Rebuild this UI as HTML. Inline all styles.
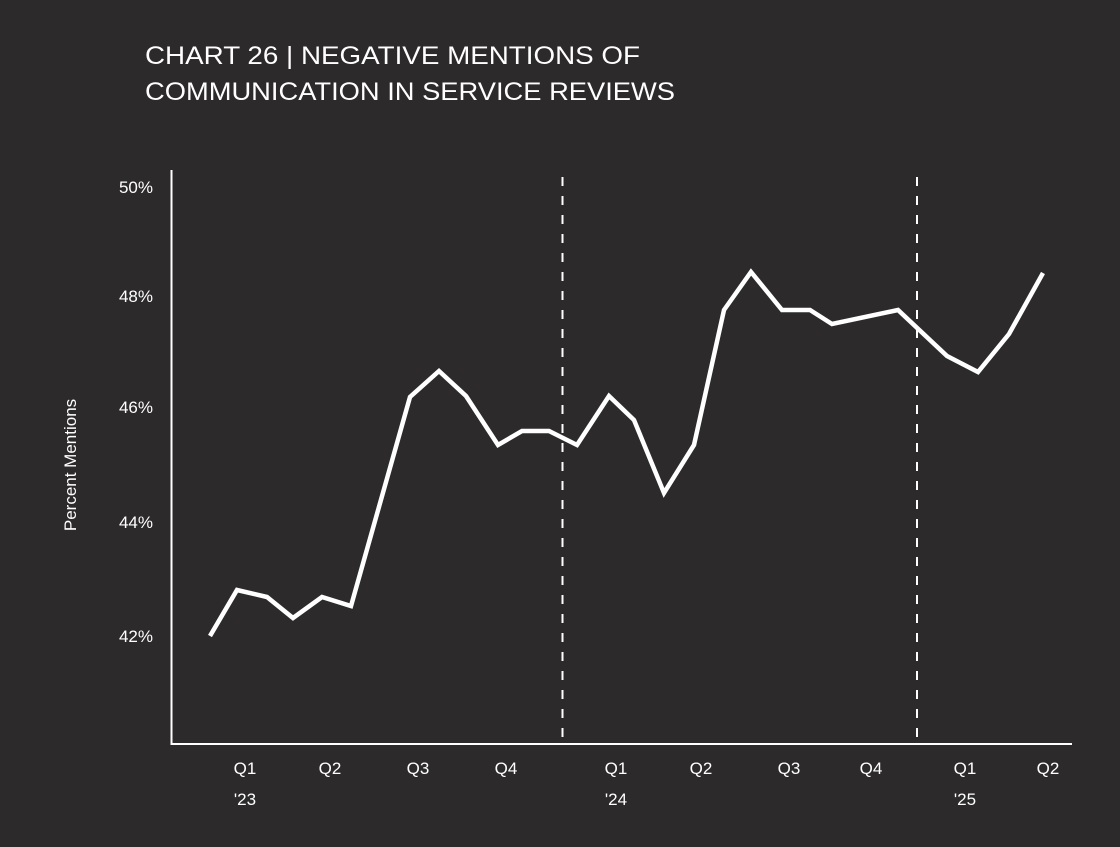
<!DOCTYPE html>
<html><head><style>
html,body{margin:0;padding:0;background:#2d2a2b;}
svg{display:block;}
text{font-family:"Liberation Sans",sans-serif;fill:#fff;}
</style></head><body>
<svg width="1120" height="847" viewBox="0 0 1120 847">
<rect width="1120" height="847" fill="#2d2a2b"/>
<text x="145" y="64" font-size="25" textLength="495" lengthAdjust="spacingAndGlyphs">CHART 26 | NEGATIVE MENTIONS OF</text>
<text x="145" y="100" font-size="25" textLength="530" lengthAdjust="spacingAndGlyphs">COMMUNICATION IN SERVICE REVIEWS</text>
<g font-size="17" text-anchor="end">
<text x="153" y="193">50%</text>
<text x="153" y="302">48%</text>
<text x="153" y="413">46%</text>
<text x="153" y="528">44%</text>
<text x="153" y="642">42%</text>
</g>
<text transform="translate(76,465) rotate(-90)" font-size="17" text-anchor="middle">Percent Mentions</text>
<line x1="171.5" y1="170" x2="171.5" y2="745" stroke="#fff" stroke-width="2"/>
<line x1="171" y1="744" x2="1072" y2="744" stroke="#fff" stroke-width="2"/>
<line x1="562.5" y1="177" x2="562.5" y2="743" stroke="#fff" stroke-width="2" stroke-dasharray="9,10"/>
<line x1="917" y1="177" x2="917" y2="743" stroke="#fff" stroke-width="2" stroke-dasharray="9,10"/>
<polyline fill="none" stroke="#fff" stroke-width="4.5" stroke-linejoin="miter" points="210,636 237,590 267,597 293,618 322,597 351,606 410,397 439,371 466,396 498,445 522,431 549,431 577,445 609,396 634,420 664,493 694,445 724,310 751,272 782,310 810,310 832,324 898,310 947,356 978,372 1009,334 1043,273"/>
<g font-size="17" text-anchor="middle">
<text x="245" y="774">Q1</text><text x="245" y="805">'23</text>
<text x="330" y="774">Q2</text>
<text x="418" y="774">Q3</text>
<text x="506" y="774">Q4</text>
<text x="616" y="774">Q1</text><text x="616" y="805">'24</text>
<text x="701" y="774">Q2</text>
<text x="789" y="774">Q3</text>
<text x="871" y="774">Q4</text>
<text x="965" y="774">Q1</text><text x="965" y="805">'25</text>
<text x="1048" y="774">Q2</text>
</g>
</svg>
</body></html>
